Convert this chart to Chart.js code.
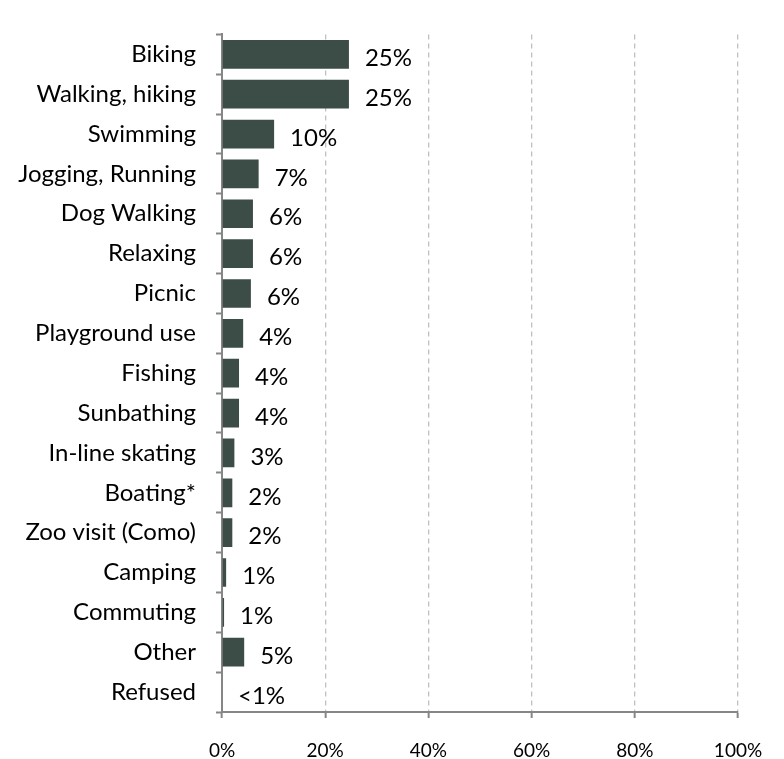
<!DOCTYPE html>
<html>
<head>
<meta charset="utf-8">
<script src="https://cdn.jsdelivr.net/npm/chart.js@4.4.1/dist/chart.umd.min.js"></script>
<style>
  html, body { margin: 0; padding: 0; background: #fff; }
  #wrap { width: 784px; height: 759px; }
</style>
</head>
<body>
<div id="wrap"><canvas id="chart" width="784" height="759"></canvas></div>
<script>
// Activities — share of respondents
const categories = [
  'Biking', 'Walking, hiking', 'Swimming', 'Jogging, Running', 'Dog Walking',
  'Relaxing', 'Picnic', 'Playground use', 'Fishing', 'Sunbathing',
  'In-line skating', 'Boating*', 'Zoo visit (Como)', 'Camping', 'Commuting',
  'Other', 'Refused',
];
const shares = [
  24.6, 24.6, 10.1, 7.1, 6.0,
  6.0, 5.6, 4.1, 3.3, 3.3,
  2.4, 2.0, 2.0, 0.8, 0.4,
  4.3, 0,
];
const shareLabels = [
  '25%', '25%', '10%', '7%', '6%',
  '6%', '6%', '4%', '4%', '4%',
  '3%', '2%', '2%', '1%', '1%',
  '5%', '<1%',
];
const xTicks = [0, 20, 40, 60, 80, 100];

const FAMILY = 'Lato, "Noto Sans", sans-serif';
const FONT = { family: FAMILY, size: 24 };
const TICK_FONT = { family: FAMILY, size: 19 };
const AXIS = '#868686';

// -----------------------------------------------------------------------------
// Value labels to the right of each bar
// -----------------------------------------------------------------------------

const valueLabels = {
  id: 'valueLabels',
  afterDatasetsDraw(chart) {
    const ctx = chart.ctx;
    const meta = chart.getDatasetMeta(0);
    ctx.save();
    ctx.font = `${FONT.size}px ${FONT.family}`;
    ctx.fillStyle = '#000';
    ctx.textAlign = 'left';
    ctx.textBaseline = 'middle';
    meta.data.forEach((bar, i) => {
      ctx.fillText(shareLabels[i], bar.x + 16, bar.y + 4);
    });
    ctx.restore();
  },
};

new Chart(document.getElementById('chart'), {
  type: 'bar',
  data: {
    labels: categories,
    datasets: [{
      data: shares,
      backgroundColor: '#3c4d48',
      borderWidth: 0,
      barPercentage: 0.72,
      categoryPercentage: 1,
    }],
  },
  options: {
    indexAxis: 'y',
    responsive: false,
    animation: false,
    layout: { padding: { top: 6, right: 46, bottom: 0, left: 0 } },
    plugins: {
      legend: { display: false },
      tooltip: { enabled: false },
    },
    scales: {
      x: {
        min: 0,
        max: 100,
        afterBuildTicks: (scale) => { scale.ticks = xTicks.map((v) => ({ value: v })); },
        afterFit: (scale) => { scale.height = 47; },
        ticks: {
          color: '#000',
          font: TICK_FONT,
          padding: 21,
          callback: (v) => `${v}%`,
        },
        grid: {
          color: (c) => (c.tick && c.tick.value === 0 ? 'rgba(0,0,0,0)' : '#c0c0c0'),
          lineWidth: 1.3,
          tickColor: AXIS,
          tickLength: 6,
          tickWidth: 2,
        },
        border: { display: true, color: AXIS, width: 2, dash: [5, 4] },
      },
      y: {
        afterFit: (scale) => { scale.width = 222; },
        ticks: {
          color: '#000',
          font: FONT,
          padding: 20,
          autoSkip: false,
        },
        grid: {
          offset: true,
          drawOnChartArea: false,
          tickColor: AXIS,
          tickLength: 6,
          tickWidth: 2,
        },
        border: { display: true, color: AXIS, width: 2 },
      },
    },
  },
  plugins: [valueLabels],
});
</script>
</body>
</html>
